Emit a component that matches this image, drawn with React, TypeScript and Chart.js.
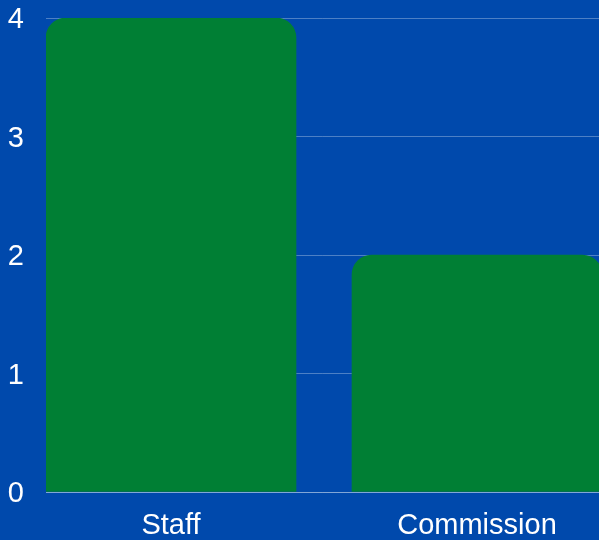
import React, { useEffect, useRef } from "react";
import { Chart, registerables } from "chart.js";

Chart.register(...registerables);

const categories = ["Staff", "Commission"];
const values = [4, 2];
const yTicks = [0, 1, 2, 3, 4];

const BG = "#0049ac";
const BAR = "#007f34";

export default function App() {
  const ref = useRef<HTMLCanvasElement | null>(null);

  useEffect(() => {
    document.body.style.margin = "0";
    document.body.style.background = BG;
    const canvas = ref.current;
    if (!canvas) return;
    const chart = new Chart(canvas, {
      type: "bar",
      data: {
        datasets: [
          {
            data: categories.map((c, i) => ({ x: i, y: values[i] })),
            backgroundColor: BAR,
            borderWidth: 0,
            borderRadius: 20,
            barThickness: 250,
          },
        ],
      },
      options: {
        responsive: false,
        animation: false,
        layout: { padding: { top: 0, right: 0, left: 0, bottom: 0 } },
        plugins: { legend: { display: false }, tooltip: { enabled: false } },
        scales: {
          x: {
            type: "linear",
            offset: false,
            min: -125 / 306,
            max: -125 / 306 + 553 / 306,
            grid: { display: false, drawTicks: false, offset: false },
            border: { display: true, color: "rgba(255,255,255,0.3)" },
            afterBuildTicks: (scale: any) => {
              scale.ticks = categories.map((_, i) => ({ value: i }));
            },
            afterFit: (scale: any) => {
              scale.height = 48;
              scale.paddingLeft = 0;
              scale.paddingRight = 0;
            },
            ticks: {
              autoSkip: false,
              maxRotation: 0,
              minRotation: 0,
              padding: 17,
              color: "#ffffff",
              font: { family: "'Liberation Sans', Arial, sans-serif", size: 29 },
              callback: (v: any) => categories[v] ?? "",
            },
          },
          y: {
            min: yTicks[0],
            max: yTicks[yTicks.length - 1],
            grid: { color: "rgba(255,255,255,0.3)", drawTicks: false },
            border: { display: false },
            afterFit: (scale: any) => {
              scale.width = 46;
              scale.paddingTop = 18;
              scale.paddingBottom = 0;
            },
            ticks: {
              stepSize: 1,
              padding: 22,
              labelOffset: 2,
              color: "#ffffff",
              font: { family: "'Liberation Sans', Arial, sans-serif", size: 29 },
            },
          },
        },
      },
    });
    return () => chart.destroy();
  }, []);

  return (
    <canvas
      ref={ref}
      width={599}
      height={540}
      style={{ display: "block", width: 599, height: 540, background: BG }}
    />
  );
}
